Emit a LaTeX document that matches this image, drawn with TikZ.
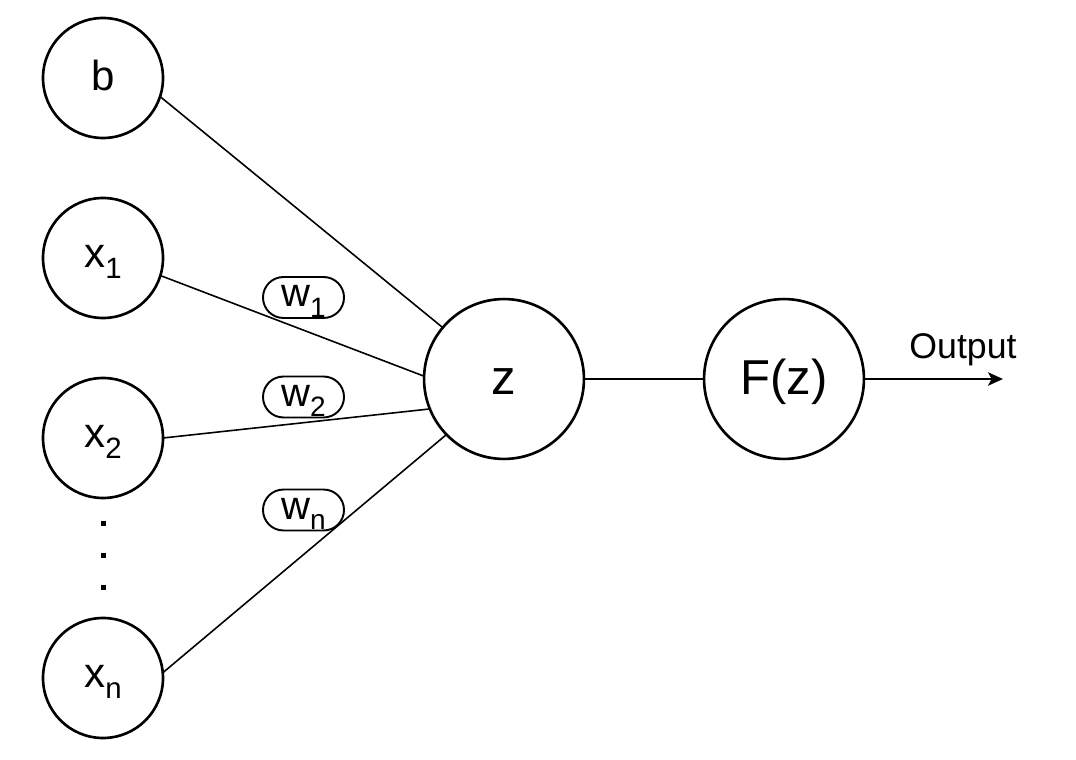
\documentclass[tikz,border=0pt]{standalone}
\usepackage{fontspec}
\setmainfont{Liberation Sans}
\usetikzlibrary{arrows.meta}
\newcommand\sbs[1]{\raisebox{-0.26em}{\scalebox{0.7}{#1}}}
\begin{document}
\begin{tikzpicture}[x=0.02cm,y=-0.02cm,
  neuron/.style={circle,draw,line width=1.5pt,minimum size=68.3pt,inner sep=0pt,outer sep=0pt,
    font=\fontsize{23.9pt}{28pt}\selectfont,text depth=0pt},
  bigneuron/.style={neuron,minimum size=91pt,font=\fontsize{27.9pt}{33pt}\selectfont,text height=18.2pt},
  wpill/.style={draw,line width=1.1pt,rounded corners=11.6pt,minimum width=46.1pt,minimum height=23.3pt,
    inner sep=0pt,outer sep=0pt,font=\fontsize{22.8pt}{27pt}\selectfont,text height=10.8pt,text depth=0pt},
  conn/.style={line width=0.9pt},
  outarrow/.style={line width=1.1pt,-{Stealth[length=8.5pt,width=7.6pt,inset=2pt]}},
  dotmark/.style={fill=black}
]
\useasboundingbox (0,0) rectangle (1076,760);
% input neurons
\node[neuron,text height=14.8pt] (b)  at (103,78)  {b};
\node[neuron,text height=10.8pt] (x1) at (103,258) {x\sbs{1}};
\node[neuron,text height=10.8pt] (x2) at (103,438) {x\sbs{2}};
\node[neuron,text height=10.8pt] (xn) at (103,678) {x\sbs{n}};
% vertical dots
\fill[dotmark] (100.5,520.5) rectangle (105.5,525.5);
\fill[dotmark] (100.5,552.5) rectangle (105.5,557.5);
\fill[dotmark] (100.5,584.5) rectangle (105.5,589.5);
% summation and activation
\node[bigneuron] (z) at (504,379) {z};
\node[bigneuron] (F) at (784,379) {F(z)};
% connectors
\draw[conn] (b.-18) -- (z.140);
\draw[conn] (x1.-17) -- (z.178);
\draw[conn] (x2.0) -- (z.202);
\draw[conn] (xn.5) -- (z.224);
\draw[conn] (z) -- (F);
\coordinate (out) at (1003,379);
\draw[outarrow] (F) -- (out);
\node[anchor=base,font=\fontsize{20.3pt}{24pt}\selectfont,inner sep=0pt] (outlabel) at (963,359) {Output};
% weight labels
\node[wpill] (w1) at (303.5,297.5) {w\sbs{1}};
\node[wpill] (w2) at (303.5,397) {w\sbs{2}};
\node[wpill] (wn) at (303.5,510) {w\sbs{n}};
\end{tikzpicture}
\end{document}
